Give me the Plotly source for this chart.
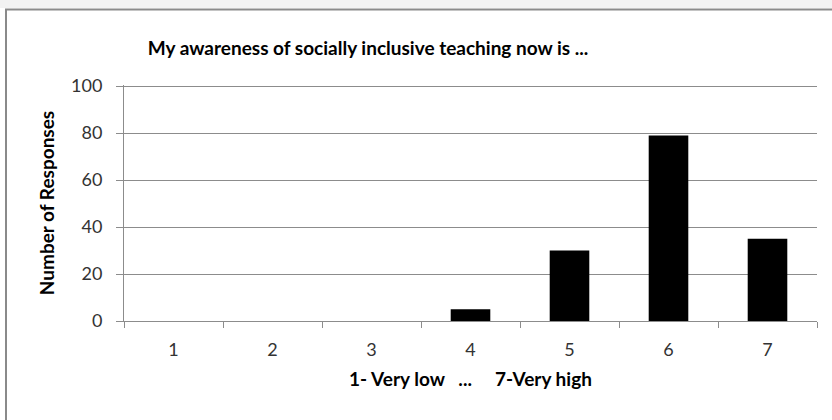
import plotly.graph_objects as go

categories = ["1", "2", "3", "4", "5", "6", "7"]
responses = [0, 0, 0, 5, 30, 79, 35]
y_ticks = [0, 20, 40, 60, 80, 100]

title_text = "My awareness of socially inclusive teaching now is ..."
x_title = "1- Very low \u00a0\u00a0...\u00a0\u00a0\u00a0\u00a0 7-Very high"
y_title = "Number of Responses"

W, H = 832, 420
L, R, T, B = 124, 817, 85, 321  # plot area in pixels
PW, PH = R - L, B - T
font_family = "Lato, 'Open Sans', sans-serif"
grid_col = "#8c8c8c"


def px(x):
    return (x - L) / PW


def py(y):
    return (B - y) / PH


fig = go.Figure()
fig.add_trace(go.Bar(
    x=categories, y=responses,
    marker=dict(color="black", line=dict(width=0)),
    width=0.4,
))

fig.update_layout(
    width=W, height=H,
    margin=dict(l=L, r=W - R, t=T, b=H - B, autoexpand=False),
    paper_bgcolor="white", plot_bgcolor="white",
    showlegend=False,
    font=dict(family=font_family, color="#222222"),
    xaxis=dict(
        type="category",
        automargin=False,
        showline=True, linecolor=grid_col, linewidth=1,
        ticks="outside", tickson="boundaries", ticklen=6, tickcolor=grid_col,
        tickfont=dict(size=18, color="#333333"),
        ticklabelstandoff=12,
        showgrid=False,
        title=dict(text="<b>" + x_title + "</b>", font=dict(size=19, color="#000000"), standoff=14),
        fixedrange=True,
    ),
    yaxis=dict(
        automargin=False,
        range=[0, 100.5],
        tickvals=y_ticks,
        showline=True, linecolor=grid_col, linewidth=1,
        ticks="outside", ticklen=7, tickcolor=grid_col,
        showgrid=True, gridcolor=grid_col, gridwidth=1,
        zeroline=False,
        tickfont=dict(size=18, color="#333333"),
        ticklabelstandoff=10,
        title=dict(text="<b>" + y_title + "</b>", font=dict(size=19, color="#000000"), standoff=11),
        fixedrange=True,
    ),
    title=dict(
        text="<b>" + title_text + "</b>",
        x=368 / W, xanchor="center",
        y=1 - 48 / H, yanchor="middle",
        font=dict(size=19, color="#000000"),
    ),
    shapes=[
        dict(type="rect", xref="paper", yref="paper", x0=px(0), x1=px(W), y0=py(8), y1=py(0),
             fillcolor="#f2f2f2", line=dict(width=0), layer="below"),
        dict(type="line", xref="paper", yref="paper", x0=px(5), x1=px(W), y0=py(9.5), y1=py(9.5),
             line=dict(color="#8a8a8a", width=2)),
        dict(type="line", xref="paper", yref="paper", x0=px(6), x1=px(6), y0=py(H), y1=py(9),
             line=dict(color="#8a8a8a", width=2)),
    ],
)

fig.write_html(
    "out.html",
    config={"displayModeBar": False, "staticPlot": True},
    post_script="document.body.style.margin='0px';document.body.style.overflow='hidden';",
)
